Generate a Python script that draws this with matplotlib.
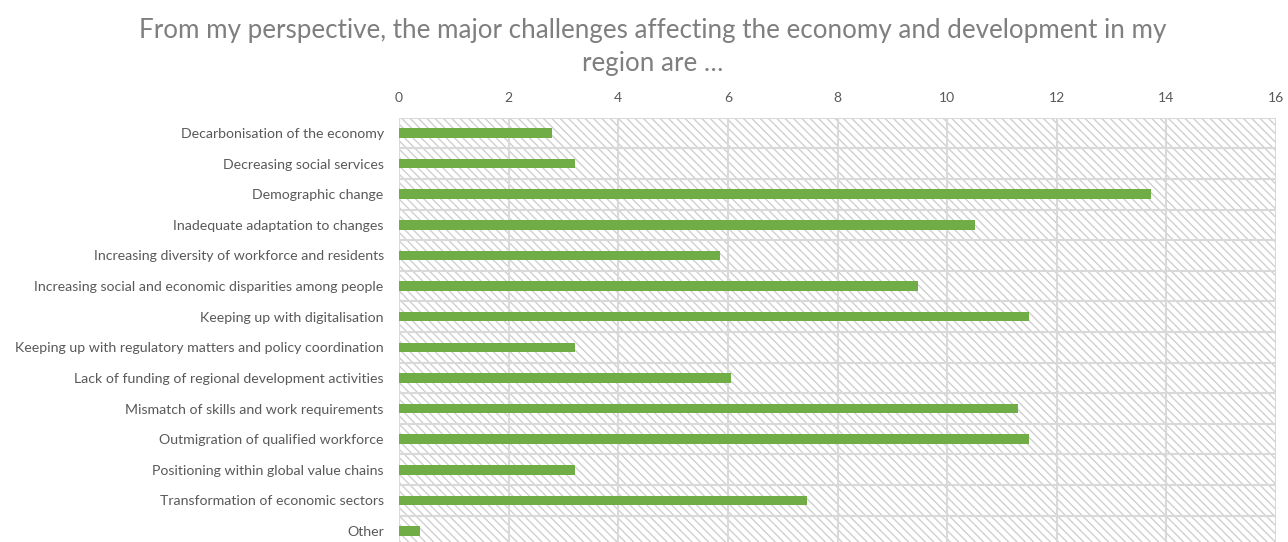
import matplotlib
matplotlib.use("Agg")
import matplotlib.pyplot as plt
from matplotlib.patches import Rectangle
import numpy as np

categories = [
    "Decarbonisation of the economy",
    "Decreasing social services",
    "Demographic change",
    "Inadequate adaptation to changes",
    "Increasing diversity of workforce and residents",
    "Increasing social and economic disparities among people",
    "Keeping up with digitalisation",
    "Keeping up with regulatory matters and policy coordination",
    "Lack of funding of regional development activities",
    "Mismatch of skills and work requirements",
    "Outmigration of qualified workforce",
    "Positioning within global value chains",
    "Transformation of economic sectors",
    "Other",
]
values = [2.8, 3.22, 13.72, 10.5, 5.85, 9.47, 11.5, 3.22, 6.05, 11.3, 11.5, 3.22, 7.45, 0.38]
x_ticks = [0, 2, 4, 6, 8, 10, 12, 14, 16]

title = "From my perspective, the major challenges affecting the economy and development in my\nregion are \u2026"

plt.rcParams["font.family"] = ["Lato", "DejaVu Sans"]
plt.rcParams["hatch.linewidth"] = 1.0

grid_col = "#d9d9d9"
text_col = "#595959"
bar_col = "#70ad47"

fig = plt.figure(figsize=(12.88, 5.42), dpi=100)
W, H = 1288, 542
left, right = 399, 1276
top, bottom = 117.7, 546.3
ax = fig.add_axes([left / W, (H - bottom) / H, (right - left) / W, (bottom - top) / H])

# hatched plot-area background
ax.add_patch(Rectangle((0, 0), 1, 1, transform=ax.transAxes, facecolor="white",
                       edgecolor="#d0d0d0", hatch="\\\\\\\\", linewidth=0, zorder=0))

y = np.arange(len(categories))
ax.barh(y, values, height=0.31, color=bar_col, zorder=3)

ax.set_xlim(0, 16)
ax.set_ylim(len(categories) - 0.5, -0.5)
ax.set_xticks(x_ticks)
ax.set_yticks(y)
ax.set_yticklabels(categories)
ax.set_yticks(np.arange(-0.5, len(categories), 1.0), minor=True)

ax.xaxis.tick_top()
ax.tick_params(axis="x", which="both", length=0, pad=10, labelsize=10, labelcolor=text_col)
ax.tick_params(axis="y", which="both", length=0, pad=11, labelsize=10.2, labelcolor=text_col)

ax.grid(True, axis="x", which="major", color=grid_col, linewidth=1.5, zorder=1)
ax.grid(True, axis="y", which="minor", color=grid_col, linewidth=1.5, zorder=1)
ax.grid(False, axis="y", which="major")
for s in ax.spines.values():
    s.set_visible(False)
ax.set_axisbelow(True)

fig.text(653 / W, 1 - 47 / H, title, ha="center", va="center", fontsize=18.7,
         color="#7f7f7f", linespacing=1.4)

fig.savefig("out.png", dpi=100)
